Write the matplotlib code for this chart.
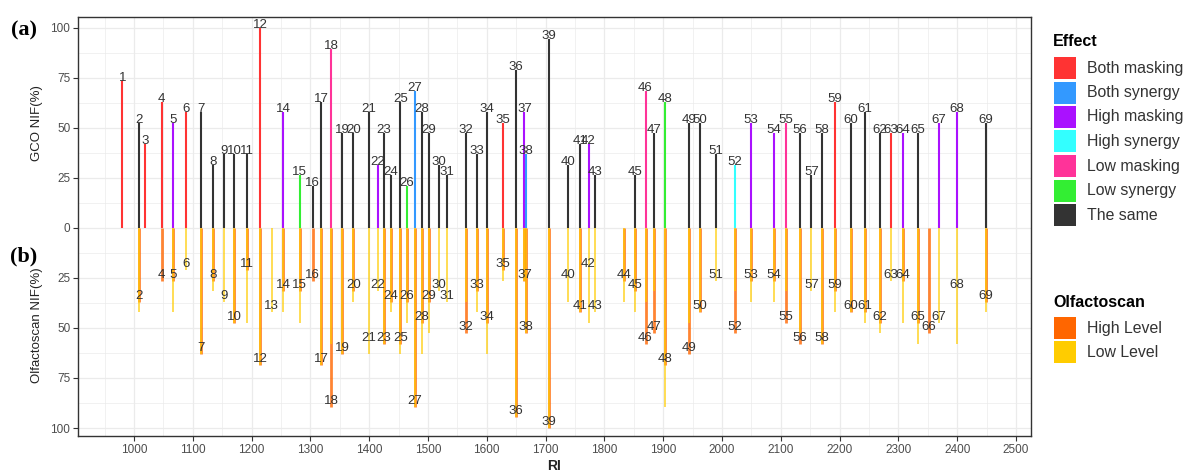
import matplotlib
matplotlib.use("Agg")
import matplotlib.pyplot as plt
from matplotlib.patches import Rectangle
from matplotlib.ticker import FixedLocator, FuncFormatter

# ---------------------------------------------------------------- data
compound = list(range(1, 70))

ri = [980, 1008, 1019, 1047, 1067, 1088, 1114, 1134, 1153, 1170,
      1192, 1215, 1234, 1254, 1282, 1304, 1318, 1335, 1354, 1373,
      1400, 1415, 1425, 1437, 1453, 1464, 1478, 1489, 1502, 1518,
      1532, 1565, 1583, 1600, 1627, 1650, 1664, 1667, 1705, 1738,
      1758, 1773, 1784, 1833, 1852, 1870, 1885, 1903, 1944, 1962,
      1990, 2022, 2049, 2088, 2108, 2132, 2152, 2170, 2192, 2219,
      2243, 2269, 2287, 2307, 2333, 2352, 2369, 2400, 2449]

effect = ["Both masking", "The same", "Both masking", "Both masking", "High masking",
          "Both masking", "The same", "The same", "The same", "The same",
          "The same", "Both masking", "", "High masking", "Low synergy",
          "The same", "The same", "Low masking", "The same", "The same",
          "The same", "High masking", "The same", "The same", "The same",
          "Low synergy", "Both synergy", "The same", "The same", "The same",
          "The same", "The same", "The same", "The same", "Both masking",
          "The same", "High masking", "Both synergy", "The same", "The same",
          "The same", "High masking", "The same", "", "The same",
          "Low masking", "The same", "Low synergy", "The same", "The same",
          "The same", "High synergy", "High masking", "High masking", "Low masking",
          "The same", "The same", "The same", "Both masking", "The same",
          "The same", "The same", "Both masking", "High masking", "The same",
          "", "High masking", "High masking", "The same"]

# GCO nasal impact frequency (%)
gco_nif = [73.7, 52.6, 42.1, 63.2, 52.6, 57.9, 57.9, 31.6, 36.8, 36.8,
           36.8, 100.0, 0.0, 57.9, 26.3, 21.1, 63.2, 89.5, 47.4, 47.4,
           57.9, 31.6, 47.4, 26.3, 63.2, 21.1, 68.4, 57.9, 47.4, 31.6,
           26.3, 47.4, 36.8, 57.9, 52.6, 78.9, 57.9, 36.8, 94.7, 31.6,
           42.1, 42.1, 26.3, 0.0, 26.3, 68.4, 47.4, 63.2, 52.6, 52.6,
           36.8, 31.6, 52.6, 47.4, 52.6, 47.4, 26.3, 47.4, 63.2, 52.6,
           57.9, 47.4, 47.4, 47.4, 47.4, 0.0, 52.6, 57.9, 52.6]

# Olfactoscan nasal impact frequency (%)
olf_nif = [0.0, 36.8, 0.0, 26.3, 26.3, 21.1, 63.2, 26.3, 36.8, 47.4,
           21.1, 68.4, 42.1, 31.6, 31.6, 26.3, 68.4, 89.5, 63.2, 31.6,
           57.9, 31.6, 57.9, 36.8, 57.9, 36.8, 89.5, 47.4, 36.8, 31.6,
           36.8, 52.6, 31.6, 47.4, 21.1, 94.7, 26.3, 52.6, 100.0, 26.3,
           42.1, 21.1, 42.1, 26.3, 31.6, 57.9, 52.6, 68.4, 63.2, 42.1,
           26.3, 52.6, 26.3, 26.3, 47.4, 57.9, 31.6, 57.9, 31.6, 42.1,
           42.1, 47.4, 26.3, 26.3, 47.4, 52.6, 47.4, 31.6, 36.8]

olf_high = [0.0, 36.8, 0.0, 26.3, 26.3, 0.0, 63.2, 26.3, 0.0, 47.4,
            21.1, 68.4, 0.0, 31.6, 31.6, 26.3, 68.4, 89.5, 63.2, 31.6,
            0.0, 0.0, 57.9, 36.8, 57.9, 36.8, 89.5, 47.4, 36.8, 0.0,
            0.0, 52.6, 31.6, 47.4, 21.1, 94.7, 26.3, 52.6, 100.0, 0.0,
            42.1, 0.0, 0.0, 26.3, 31.6, 57.9, 52.6, 68.4, 63.2, 42.1,
            0.0, 52.6, 26.3, 26.3, 47.4, 57.9, 0.0, 57.9, 31.6, 42.1,
            42.1, 47.4, 0.0, 26.3, 47.4, 52.6, 0.0, 0.0, 36.8]

olf_low = [0.0, 42.1, 0.0, 0.0, 42.1, 21.1, 63.2, 31.6, 36.8, 47.4,
           47.4, 68.4, 42.1, 42.1, 47.4, 0.0, 68.4, 57.9, 63.2, 36.8,
           63.2, 31.6, 57.9, 42.1, 63.2, 47.4, 89.5, 63.2, 52.6, 31.6,
           36.8, 36.8, 42.1, 63.2, 26.3, 94.7, 26.3, 52.6, 100.0, 36.8,
           42.1, 47.4, 42.1, 36.8, 42.1, 36.8, 31.6, 89.5, 47.4, 42.1,
           26.3, 31.6, 36.8, 36.8, 31.6, 52.6, 31.6, 57.9, 42.1, 42.1,
           47.4, 52.6, 26.3, 47.4, 57.9, 0.0, 47.4, 57.9, 42.1]

effect_levels = ["Both masking", "Both synergy", "High masking", "High synergy",
                 "Low masking", "Low synergy", "The same"]
effect_colors = ["#FF3333", "#3399FF", "#AA11FF", "#33FFFF",
                 "#FF3399", "#33EE33", "#333333"]
level_names = ["High Level", "Low Level"]
level_colors = ["#FF6600", "#FFCC00"]

# ---------------------------------------------------------------- figure
W, H = 1189, 473
fig = plt.figure(figsize=(W / 100, H / 100), dpi=100)
plt.rcParams["font.family"] = ["Liberation Sans", "DejaVu Sans"]


def fx(px):
    return px / W


def fy(py):
    return 1 - py / H


left, right, top, bottom = 78, 1031, 17, 436
ax = fig.add_axes([fx(left), fy(bottom), fx(right - left), (bottom - top) / H])
ax.set_xlim(904.8, 2525.5)
ax.set_ylim(-104.0, 105.5)

# grid (major + minor, ggplot theme_bw style)
for x in range(950, 2501, 50):
    ax.axvline(x, color="#EBEBEB", lw=0.9 if x % 100 == 0 else 0.5, zorder=0)
for y in [v * 12.5 for v in range(-8, 9)]:
    ax.axhline(y, color="#EBEBEB", lw=0.9 if y % 25 == 0 else 0.5, zorder=0)

color_of = dict(zip(effect_levels, effect_colors))

# upper panel: GCO
for n, x, v, e in zip(compound, ri, gco_nif, effect):
    if v > 0:
        ax.vlines(x, 0, v, colors=color_of[e], lw=1.5, zorder=2)
        ax.text(x, v, str(n), ha="center", va="baseline", fontsize=9.5,
                color="#333333", zorder=5)

# lower panel: Olfactoscan high / low level
for x, hi in zip(ri, olf_high):
    if hi > 0:
        ax.vlines(x, 0, -hi, colors=level_colors[0], lw=2.0, alpha=0.8, zorder=2)
for x, lo in zip(ri, olf_low):
    if lo > 0:
        ax.vlines(x, 0, -lo, colors=level_colors[1], lw=1.1, alpha=0.85, zorder=3)
for n, x, v in zip(compound, ri, olf_nif):
    if v > 0:
        ax.text(x, -v, str(n), ha="center", va="bottom", fontsize=9.5,
                color="#333333", zorder=5)

# axes
ax.xaxis.set_major_locator(FixedLocator(list(range(1000, 2501, 100))))
ax.yaxis.set_major_locator(FixedLocator([v * 25 for v in range(-4, 5)]))
ax.yaxis.set_major_formatter(FuncFormatter(lambda v, p: f"{abs(v):.0f}"))
ax.tick_params(axis="both", direction="out", length=3.5, width=0.8,
               color="#333333", labelcolor="#4D4D4D", labelsize=8.5, pad=2)
for s in ax.spines.values():
    s.set_color("#333333")
    s.set_linewidth(1.0)

fig.text(fx(37), fy(123), "GCO NIF(%)", rotation=90, ha="center", va="center",
         fontsize=9.5, color="#222222")
fig.text(fx(37), fy(325), "Olfactoscan NIF(%)", rotation=90, ha="center",
         va="center", fontsize=9.5, color="#222222")
fig.text(fx(554), fy(466), "RI", ha="center", va="center", fontsize=10,
         fontweight="bold", color="#222222")

fig.text(fx(24), fy(30), "(a)", ha="center", va="center", fontsize=16,
         fontweight="bold", family=["Liberation Serif", "DejaVu Serif"])
fig.text(fx(24), fy(256), "(b)", ha="center", va="center", fontsize=16,
         fontweight="bold", family=["Liberation Serif", "DejaVu Serif"])

# legends
def legend_block(title, title_y, names, colors, first_y, step):
    fig.text(fx(1053), fy(title_y), title, ha="left", va="center",
             fontsize=11.5, fontweight="bold", color="black")
    for i, (nm, c) in enumerate(zip(names, colors)):
        cy = first_y + i * step
        fig.add_artist(Rectangle((fx(1054), fy(cy + 11)), 22 / W, 22 / H,
                                 transform=fig.transFigure, facecolor=c,
                                 edgecolor="none"))
        fig.text(fx(1087), fy(cy), nm, ha="left", va="center",
                 fontsize=11.4, color="#333333")


legend_block("Effect", 41, effect_levels, effect_colors, 68, 24.5)
legend_block("Olfactoscan", 302, level_names, level_colors, 328, 24.2)

fig.savefig("out.png", dpi=100)
